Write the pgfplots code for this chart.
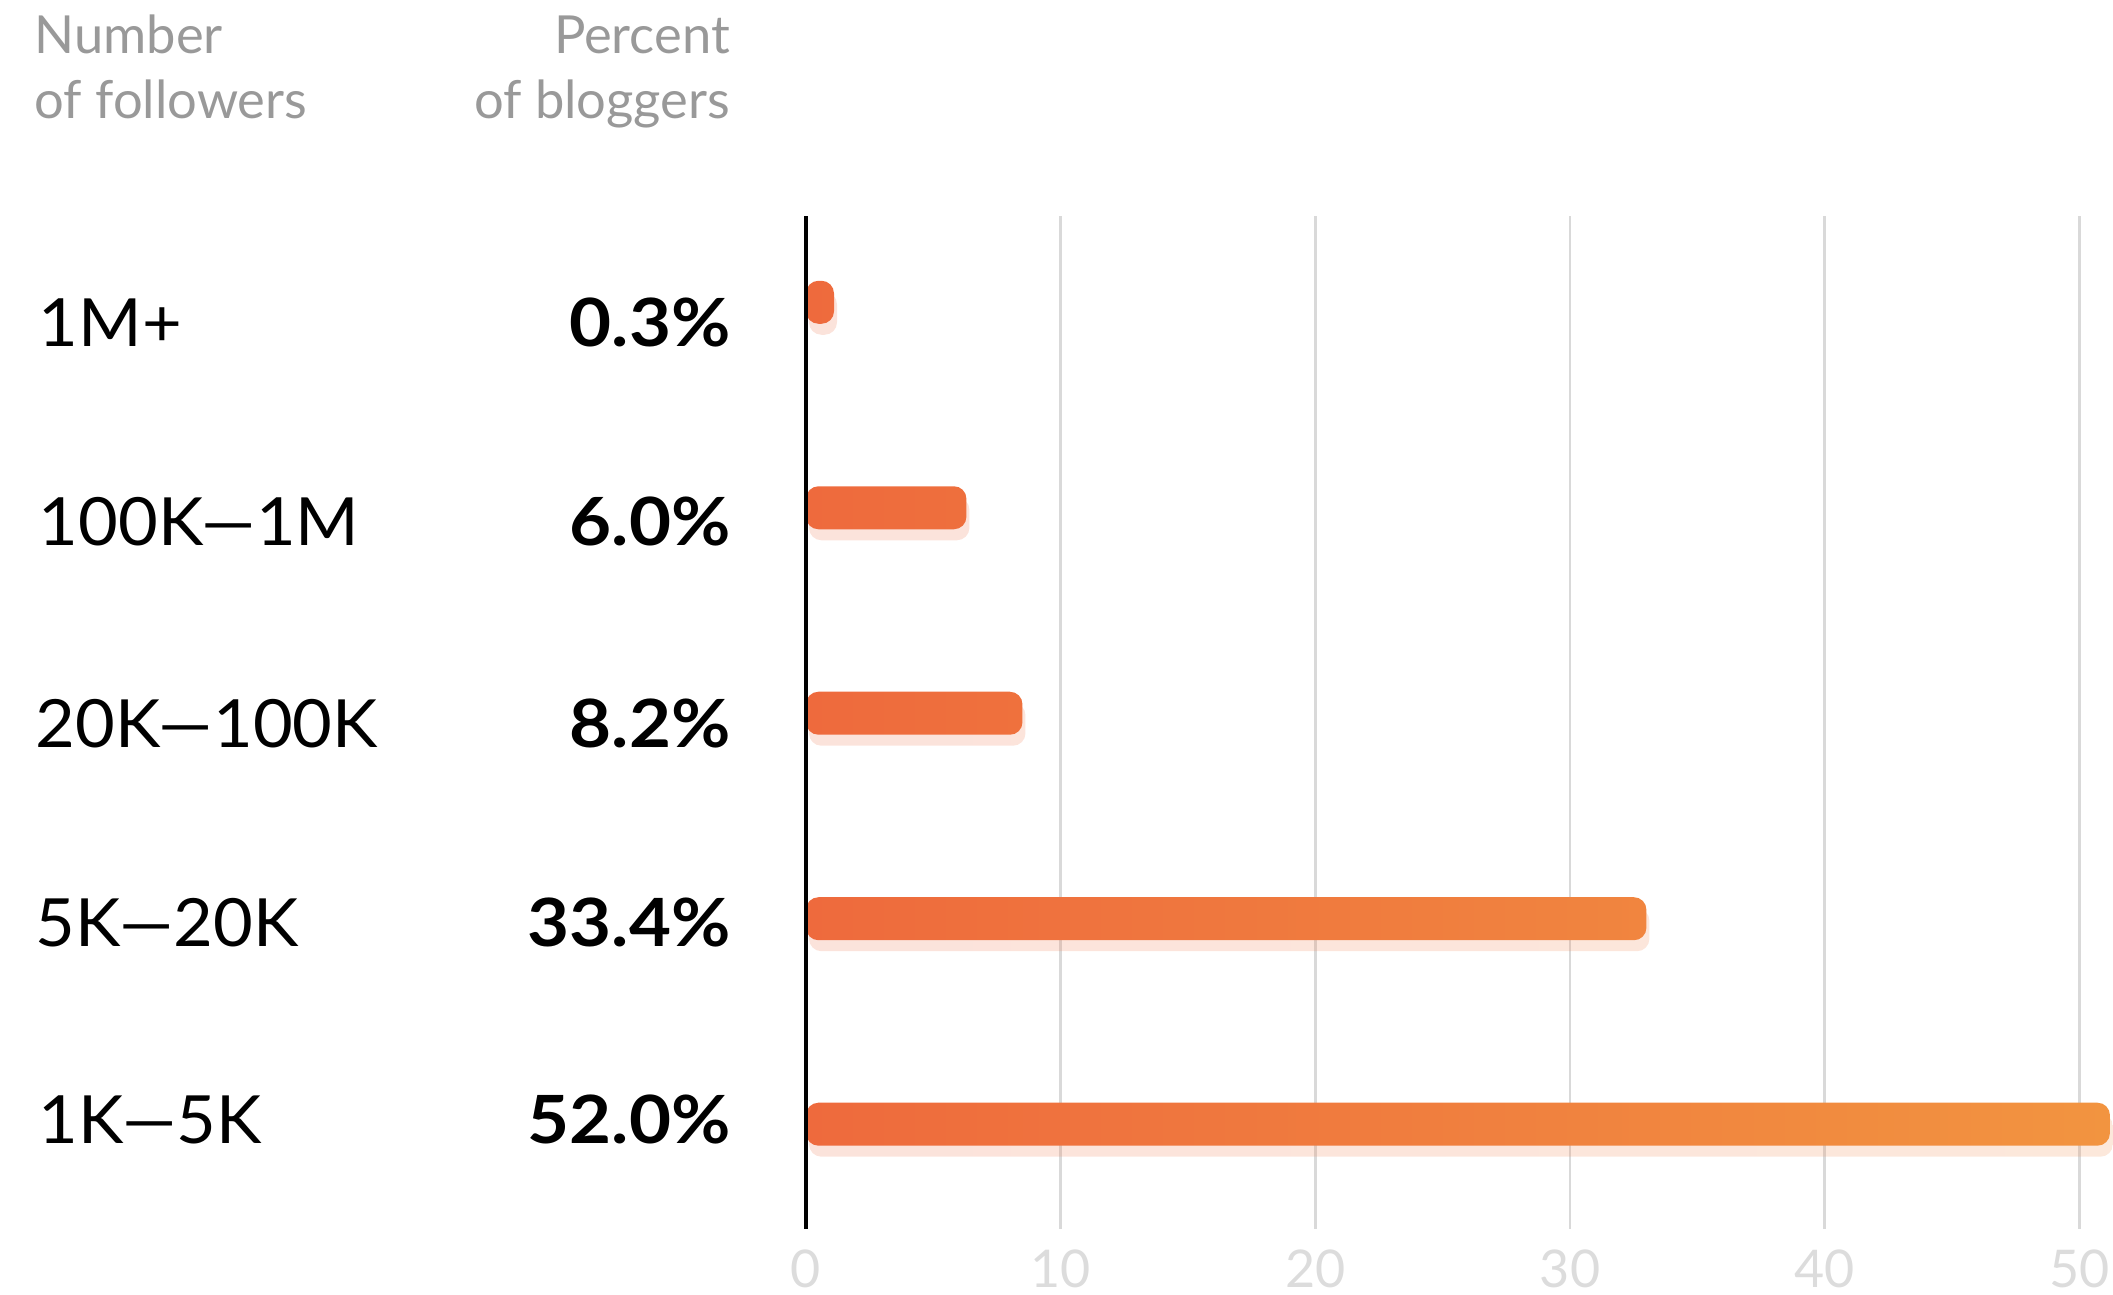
\documentclass[border=0pt]{standalone}
\usepackage{pgfplots}
\pgfplotsset{compat=1.18}
\usepackage{pgfplotstable}
\usepackage{fontspec}
\setmainfont{Lato}
\usetikzlibrary{shadows}
\definecolor{barL}{HTML}{EE6A3D}
\definecolor{barR}{HTML}{F29440}
\definecolor{hdr}{HTML}{999999}
\definecolor{gridc}{HTML}{D9D9D9}
\definecolor{tickc}{HTML}{DCDCDC}
\definecolor{shad}{HTML}{F4B0A0}

\pgfplotstableread{
y len
0 51.2
1 33.0
2 8.5
3 6.3
4 1.1
}\bars

\begin{document}
\begin{tikzpicture}
\path[use as bounding box] (-161.2pt,-13.2pt) rectangle (261.4pt,245.8pt);
\begin{axis}[
  at={(0,0)}, anchor=south west,
  scale only axis,
  width=261.4pt, height=202.6pt,
  xmin=0, xmax=51.32,
  ymin=-0.51, ymax=4.42,
  clip=false,
  axis lines*=left,
  x axis line style={draw=none},
  y axis line style={draw=none},
  ytick=\empty,
  xtick={0,10,20,30,40,50},
  major tick length=0pt,
  xmajorgrids,
  grid style={gridc, line width=0.55pt},
  /pgf/number format/assume math mode=true,
  xticklabel style={font=\fontsize{10.4}{12}\selectfont, text=tickc, anchor=north, inner sep=0pt, yshift=-4.0pt},
]
\addplot[xbar, bar width=8.6pt, draw=none, left color=barL, right color=barR,
  rounded corners=2.5pt,
  drop shadow={shadow xshift=0.6pt, shadow yshift=-2.2pt, fill=shad, opacity=0.13}]
  table[x=len, y=y] {\bars};

\draw[black, line width=0.8pt] (rel axis cs:0,0) -- (rel axis cs:0,1);

% category labels
\begin{scope}[every node/.style={font=\fontsize{13.3}{15}\selectfont\addfontfeatures{FakeStretch=1.03}, text=black, inner sep=0pt}]
\node[anchor=base west] at ([xshift=-153.6pt, yshift=-4.7pt]axis cs:0,3.90) {1M+};
\node[anchor=base west] at ([xshift=-153.6pt, yshift=-4.7pt]axis cs:0,2.93) {100K—1M};
\node[anchor=base west] at ([xshift=-154.2pt, yshift=-4.7pt]axis cs:0,1.95) {20K—100K};
\node[anchor=base west] at ([xshift=-154.2pt, yshift=-4.7pt]axis cs:0,0.98) {5K—20K};
\node[anchor=base west] at ([xshift=-153.6pt, yshift=-4.7pt]axis cs:0,0.02) {1K—5K};
\end{scope}
\begin{scope}[every node/.style={font=\fontsize{13.3}{15}\selectfont\bfseries\addfontfeatures{FakeStretch=1.09}, text=black, inner sep=0pt}]
\node[anchor=base east] at ([xshift=-14.9pt, yshift=-4.7pt]axis cs:0,3.90) {0.3\%};
\node[anchor=base east] at ([xshift=-14.9pt, yshift=-4.7pt]axis cs:0,2.93) {6.0\%};
\node[anchor=base east] at ([xshift=-14.9pt, yshift=-4.7pt]axis cs:0,1.95) {8.2\%};
\node[anchor=base east] at ([xshift=-14.9pt, yshift=-4.7pt]axis cs:0,0.98) {33.4\%};
\node[anchor=base east] at ([xshift=-14.9pt, yshift=-4.7pt]axis cs:0,0.02) {52.0\%};
\end{scope}
\end{axis}
% headers
\begin{scope}[every node/.style={font=\fontsize{10.5}{12}\selectfont, text=hdr, inner sep=0pt}]
\node[anchor=base west] at (-154.5pt,235pt) {Number};
\node[anchor=base west] at (-154.5pt,222.1pt) {of followers};
\node[anchor=base east] at (-15.0pt,235pt) {Percent};
\node[anchor=base east] at (-15.0pt,222.1pt) {of bloggers};
\end{scope}
\end{tikzpicture}
\end{document}
